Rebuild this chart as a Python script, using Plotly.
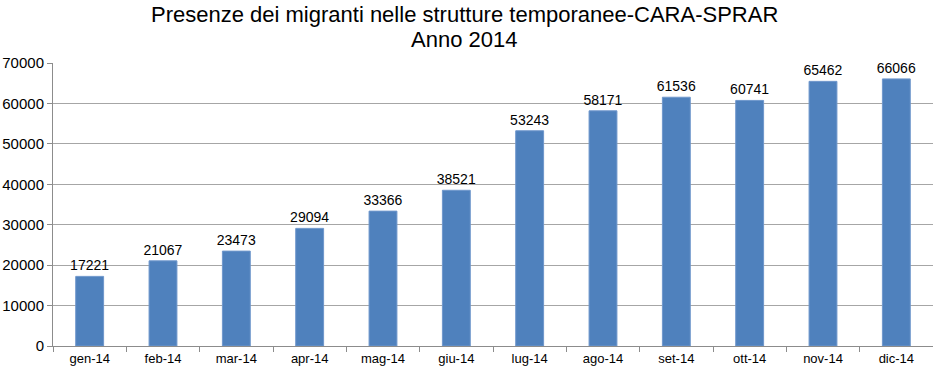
import plotly.graph_objects as go

months = ["gen-14", "feb-14", "mar-14", "apr-14", "mag-14", "giu-14",
          "lug-14", "ago-14", "set-14", "ott-14", "nov-14", "dic-14"]
presenze = [17221, 21067, 23473, 29094, 33366, 38521,
            53243, 58171, 61536, 60741, 65462, 66066]
y_ticks = [0, 10000, 20000, 30000, 40000, 50000, 60000, 70000]
title_lines = ["Presenze dei migranti nelle strutture temporanee-CARA-SPRAR", "Anno 2014"]

FONT = "Liberation Sans, Arial, sans-serif"

fig = go.Figure(go.Bar(
    x=months, y=presenze,
    marker=dict(color="#4F81BD", line=dict(color="#6f97cc", width=1)),
    text=[str(v) for v in presenze], textposition="outside",
    constraintext="none",
    textfont=dict(family=FONT, size=14, color="black"),
    cliponaxis=False,
))

W, H = 933, 370
L, R, T, B = 53, 0, 63, 24
pw = W - L - R
ph = H - T - B

def paper_y(px):
    return (H - B - px) / ph

def paper_x(px):
    return (px - L) / pw

fig.update_layout(
    width=W, height=H,
    margin=dict(l=L, r=R, t=T, b=B, autoexpand=False),
    paper_bgcolor="white", plot_bgcolor="white",
    bargap=0.62,
    showlegend=False,
    font=dict(family=FONT, color="black"),
    annotations=[
        dict(text=title_lines[0], x=paper_x(464), xref="paper", y=paper_y(14), yref="paper",
             xanchor="center", yanchor="middle", showarrow=False,
             font=dict(family=FONT, size=22, color="black")),
        dict(text=title_lines[1], x=paper_x(464), xref="paper", y=paper_y(39), yref="paper",
             xanchor="center", yanchor="middle", showarrow=False,
             font=dict(family=FONT, size=22, color="black")),
    ],
)
fig.update_xaxes(
    showline=True, linecolor="#8c8c8c", linewidth=1,
    ticks="outside", tickson="boundaries", ticklen=5, tickcolor="#8c8c8c",
    tickfont=dict(size=13, color="black"), showgrid=False,
)
fig.update_yaxes(
    range=[0, 70000], tickvals=y_ticks, ticktext=[str(v) for v in y_ticks],
    showline=True, linecolor="#8c8c8c", linewidth=1,
    ticks="outside", ticklen=5, tickcolor="#8c8c8c",
    showgrid=True, gridcolor="#a6a6a6", gridwidth=1,
    tickfont=dict(size=15, color="black"), zeroline=False,
)

fig.write_html("out.html", config={"displayModeBar": False},
               post_script="document.body.style.margin='0px';")
